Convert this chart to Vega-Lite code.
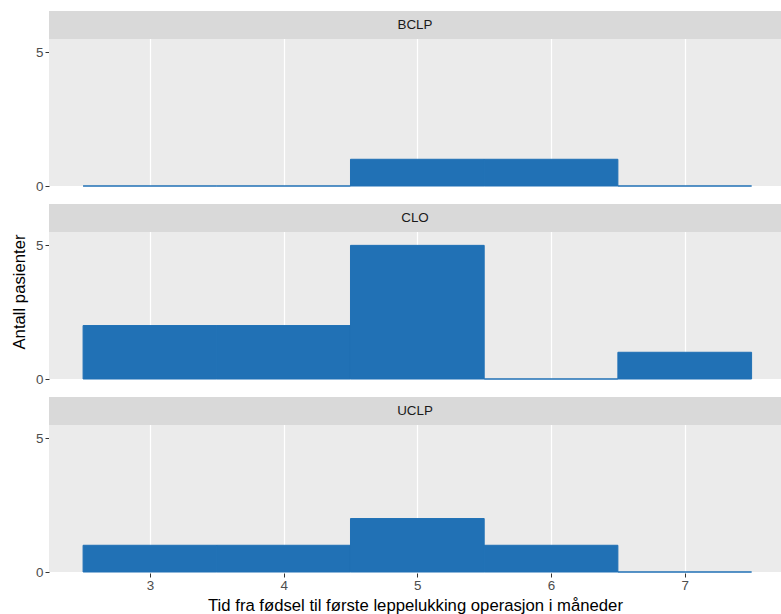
{
  "$schema": "https://vega.github.io/schema/vega-lite/v6.json",
  "padding": {"left": 12, "top": 11, "right": 0, "bottom": 0},
  "background": "white",
  "data": {"values": [
    {"panel": "BCLP", "from": 2.5, "to": 3.5, "count": 0},
    {"panel": "BCLP", "from": 3.5, "to": 4.5, "count": 0},
    {"panel": "BCLP", "from": 4.5, "to": 5.5, "count": 1},
    {"panel": "BCLP", "from": 5.5, "to": 6.5, "count": 1},
    {"panel": "BCLP", "from": 6.5, "to": 7.5, "count": 0},
    {"panel": "CLO", "from": 2.5, "to": 3.5, "count": 2},
    {"panel": "CLO", "from": 3.5, "to": 4.5, "count": 2},
    {"panel": "CLO", "from": 4.5, "to": 5.5, "count": 5},
    {"panel": "CLO", "from": 5.5, "to": 6.5, "count": 0},
    {"panel": "CLO", "from": 6.5, "to": 7.5, "count": 1},
    {"panel": "UCLP", "from": 2.5, "to": 3.5, "count": 1},
    {"panel": "UCLP", "from": 3.5, "to": 4.5, "count": 1},
    {"panel": "UCLP", "from": 4.5, "to": 5.5, "count": 2},
    {"panel": "UCLP", "from": 5.5, "to": 6.5, "count": 1},
    {"panel": "UCLP", "from": 6.5, "to": 7.5, "count": 0}
  ]},
  "facet": {"row": {"field": "panel", "type": "nominal", "title": "Antall pasienter",
    "header": {"labels": false, "titleFont": "Liberation Sans", "titleFontSize": 16.7, "titleFontWeight": "normal", "titleColor": "#000000", "titlePadding": -4}}},
  "spacing": 17,
  "spec": {
    "width": 732,
    "height": 175,
    "layer": [
      {
        "mark": {"type": "bar", "fill": "#2171b5", "stroke": "#2171b5", "strokeWidth": 1},
        "encoding": {
          "x": {"field": "from", "type": "quantitative",
                "scale": {"domain": [2.245, 7.72], "nice": false, "zero": false},
                "axis": {"values": [3, 4, 5, 6, 7], "grid": true, "gridColor": "white", "gridWidth": 1.2,
                         "title": "Tid fra fødsel til første leppelukking operasjon i måneder", "format": "d",
                         "labelPadding": 1, "titlePadding": 6}},
          "x2": {"field": "to"},
          "y": {"field": "count", "type": "quantitative",
                "scale": {"domain": [0, 6.5476], "nice": false},
                "axis": {"values": [0, 5], "grid": false, "title": null, "format": "d"}},
          "y2": {"datum": 0}
        }
      },
      {
        "transform": [{"filter": "datum.from == 4.5"}],
        "mark": {"type": "rect", "fill": "#d9d9d9"},
        "encoding": {
          "x": {"datum": 2.245, "type": "quantitative"},
          "x2": {"datum": 7.72},
          "y": {"datum": 5.5, "type": "quantitative"},
          "y2": {"datum": 6.5476}
        }
      },
      {
        "transform": [{"filter": "datum.from == 4.5"}],
        "mark": {"type": "text", "fontSize": 13.4, "color": "#1a1a1a", "font": "Liberation Sans", "baseline": "middle", "align": "center"},
        "encoding": {
          "x": {"datum": 4.9825, "type": "quantitative"},
          "y": {"datum": 6.024, "type": "quantitative"},
          "text": {"field": "panel", "type": "nominal"}
        }
      }
    ]
  },
  "config": {
    "view": {"fill": "#ebebeb", "stroke": null},
    "axis": {
      "domain": false,
      "labelFont": "Liberation Sans", "labelFontSize": 13.4, "labelColor": "#4d4d4d",
      "tickColor": "#333333", "tickSize": 4,
      "titleFont": "Liberation Sans", "titleFontSize": 16.7, "titleFontWeight": "normal", "titleColor": "#000000"
    }
  }
}
